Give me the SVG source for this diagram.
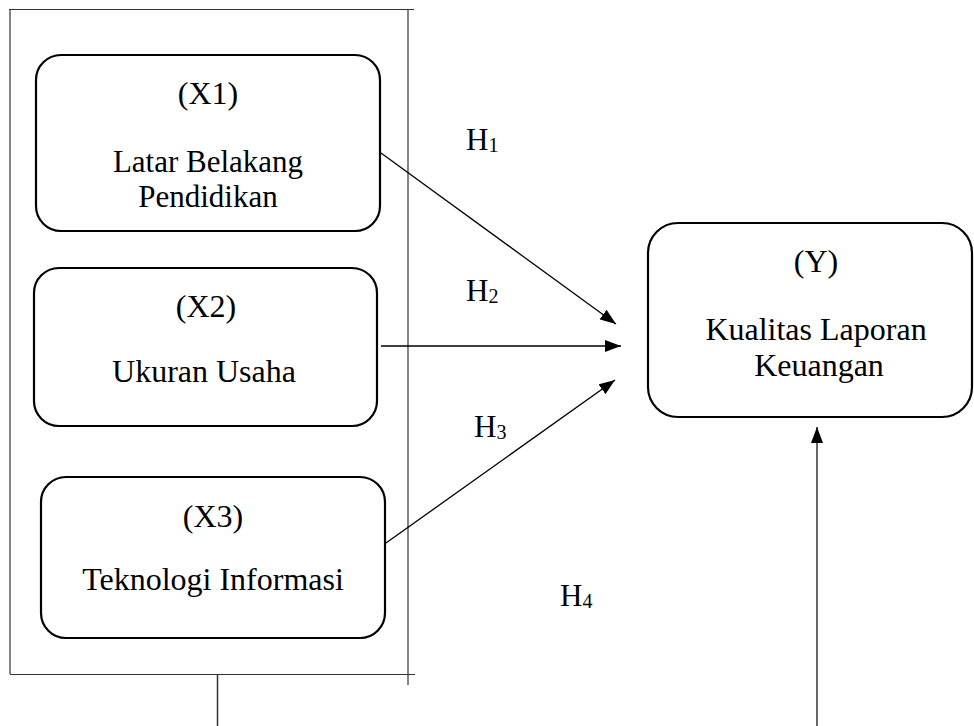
<svg xmlns="http://www.w3.org/2000/svg" width="974" height="726" viewBox="0 0 974 726">
<style>
.box{fill:#fff;stroke:#000;stroke-width:2.2}
.frame{stroke:#333;stroke-width:1.2;fill:none}
.conn{stroke:#000;stroke-width:1.3;fill:none}
.t{font-family:"Liberation Serif","Times New Roman",serif;font-size:32px;fill:#000;text-anchor:middle}
.h{font-family:"Liberation Serif","Times New Roman",serif;font-size:31px;fill:#000}
.sub{font-size:20px}
</style>
<defs>
<marker id="arr" viewBox="0 0 16 12" refX="16" refY="6" markerWidth="16" markerHeight="12" markerUnits="userSpaceOnUse" orient="auto">
<path d="M0,0 L16,6 L0,12 Z" fill="#000"/>
</marker>
</defs>
<g id="frame">
<line class="frame" x1="9" y1="9.5" x2="414" y2="9.5"/>
<line class="frame" x1="10" y1="9" x2="10" y2="674"/>
<line class="frame" x1="10" y1="674.5" x2="415" y2="674.5"/>
<line class="frame" x1="408" y1="9" x2="408" y2="685"/>
</g>
<g id="X1">
<rect class="box" x="36" y="55" width="344" height="176" rx="25"/>
<text class="t" x="208" y="104">(X1)</text>
<text class="t" x="208" y="172" style="font-size:31px">Latar Belakang</text>
<text class="t" x="208" y="207" style="font-size:31px">Pendidikan</text>
</g>
<g id="X2">
<rect class="box" x="34" y="268" width="343" height="158" rx="25"/>
<text class="t" x="206" y="317">(X2)</text>
<text class="t" x="204" y="382">Ukuran Usaha</text>
</g>
<g id="X3">
<rect class="box" x="41" y="477" width="344" height="161" rx="25"/>
<text class="t" x="213" y="527">(X3)</text>
<text class="t" x="213" y="590">Teknologi Informasi</text>
</g>
<g id="Y">
<rect class="box" x="648" y="223" width="324" height="194" rx="30"/>
<text class="t" x="816" y="272">(Y)</text>
<text class="t" x="816" y="340">Kualitas Laporan</text>
<text class="t" x="819" y="376">Keuangan</text>
</g>
<g id="connectors">
<line class="conn" x1="381" y1="153" x2="616" y2="324" marker-end="url(#arr)"/>
<line class="conn" x1="381" y1="346" x2="621" y2="346" marker-end="url(#arr)"/>
<line class="conn" x1="386" y1="543" x2="615" y2="380" marker-end="url(#arr)"/>
<line class="conn" x1="817" y1="726" x2="817" y2="427" marker-end="url(#arr)" style="stroke:#333;stroke-width:1.5"/>
<line class="conn" x1="217.5" y1="674" x2="217.5" y2="726" style="stroke:#333;stroke-width:1.5"/>
</g>
<g id="labels">
<text class="h" x="466" y="150">H<tspan class="sub" dy="2">1</tspan></text>
<text class="h" x="466" y="301">H<tspan class="sub" dy="2">2</tspan></text>
<text class="h" x="474" y="437">H<tspan class="sub" dy="2">3</tspan></text>
<text class="h" x="560" y="606">H<tspan class="sub" dy="2">4</tspan></text>
</g>
</svg>
